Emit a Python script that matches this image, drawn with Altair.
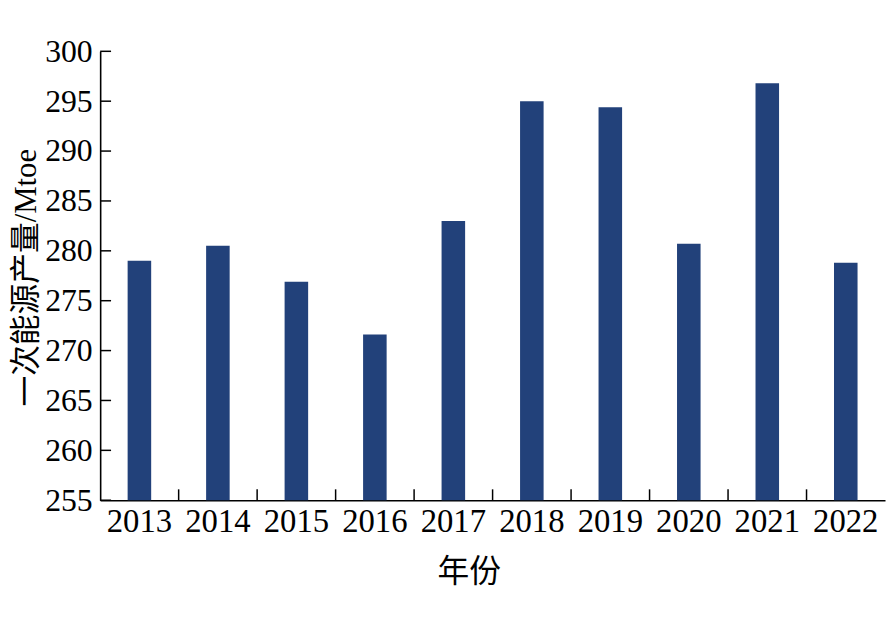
import altair as alt
import pandas as pd

years = ["2013", "2014", "2015", "2016", "2017", "2018", "2019", "2020", "2021", "2022"]
production = [279.0, 280.5, 276.9, 271.6, 283.0, 295.0, 294.4, 280.7, 296.8, 278.8]
y_ticks = [255, 260, 265, 270, 275, 280, 285, 290, 295, 300]

FONT = "Liberation Serif, Times New Roman, Noto Sans CJK SC"
BAR = "#22417A"

df = pd.DataFrame({"year": years, "value": production})
ticks_df = pd.DataFrame({"t": y_ticks})
bound_df = pd.DataFrame({"year": years[1:]})

x_scale = alt.Scale(domain=years, paddingInner=0, paddingOuter=0)
y_scale = alt.Scale(domain=[255, 300], nice=False, zero=False)

bars = alt.Chart(df).mark_bar(color=BAR, width=alt.RelativeBandSize(0.3)).encode(
    x=alt.X(
        "year:N",
        sort=years,
        scale=x_scale,
        axis=alt.Axis(
            title="年份",
            titleFont=FONT, titleFontSize=32, titleFontWeight="normal", titleColor="#000",
            titleX=372, titleY=72, titleBaseline="middle", titleAlign="center",
            labelFont=FONT, labelFontSize=33, labelColor="#000", labelPadding=6,
            labelAngle=0, ticks=False, domainColor="#000", domainWidth=1.6,
            grid=False,
        ),
    ),
    y=alt.Y(
        "value:Q",
        scale=y_scale,
        axis=alt.Axis(
            title="一次能源产量/Mtoe",
            titleFont=FONT, titleFontSize=31, titleFontWeight="normal", titleColor="#000",
            titleX=-74, titleY=228, titleAngle=270, titleAlign="center", titleBaseline="middle",
            labelFont=FONT, labelFontSize=32, labelColor="#000", labelPadding=8,
            values=y_ticks, ticks=False, domainColor="#000", domainWidth=1.6, grid=False,
        ),
    ),
    y2=alt.datum(255),
)

ytick_rules = alt.Chart(ticks_df).mark_rule(color="#000", strokeWidth=1.5).encode(
    y=alt.Y("t:Q", scale=y_scale),
    x=alt.value(0),
    x2=alt.value(11),
)

xtick_rules = alt.Chart(bound_df).mark_rule(color="#000", strokeWidth=1.5).encode(
    x=alt.X("year:N", sort=years, scale=x_scale, bandPosition=0),
    y=alt.value(442),
    y2=alt.value(453),
)

chart = alt.layer(bars, ytick_rules, xtick_rules).properties(
    width=792,
    height=453,
    autosize=alt.AutoSizeParams(type="none"),
    padding={"left": 93, "top": 41, "right": 2, "bottom": 100},
).configure(background="white").configure_view(stroke=None)

chart.save("out.html", embed_options={"renderer": "svg", "actions": False})
